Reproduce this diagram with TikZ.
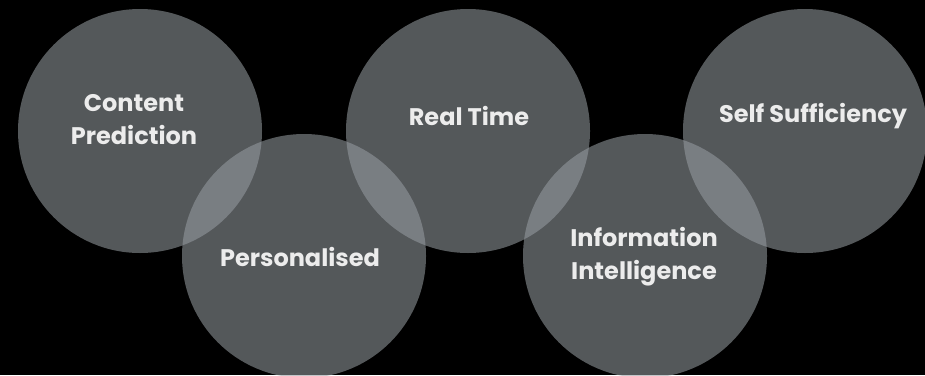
\documentclass[tikz,border=0pt]{standalone}
\usepackage{fontspec}
\setmainfont{Poppins}
\definecolor{circfill}{RGB}{150,156,161}
\definecolor{txt}{RGB}{236,236,236}
\begin{document}
\begin{tikzpicture}[x=1pt,y=-1pt,
  bubble/.style={circle,fill=circfill,fill opacity=0.565,draw=none,minimum size=244pt,inner sep=0pt},
  lbl/.style={text=txt,font=\fontsize{24}{33}\selectfont\bfseries,align=center,inner sep=0pt}]
\fill[black] (0,0) rectangle (925,375);
\useasboundingbox (0,0) rectangle (925,375);
\node[bubble] (c1) at (140,131) {};
\node[bubble] (c2) at (304,256) {};
\node[bubble] (c3) at (468,131) {};
\node[bubble] (c4) at (645,256) {};
\node[bubble] (c5) at (805,131) {};
\node[lbl] (t1) at (134,120) {Content\\Prediction};
\node[lbl] (t2) at (300,257) {Personalised};
\node[lbl] (t3) at (469,116) {Real Time};
\node[lbl] (t4) at (644,257) {Information\\Intelligence};
\node[lbl] (t5) at (813,116) {Self Sufficiency};
\end{tikzpicture}
\end{document}
